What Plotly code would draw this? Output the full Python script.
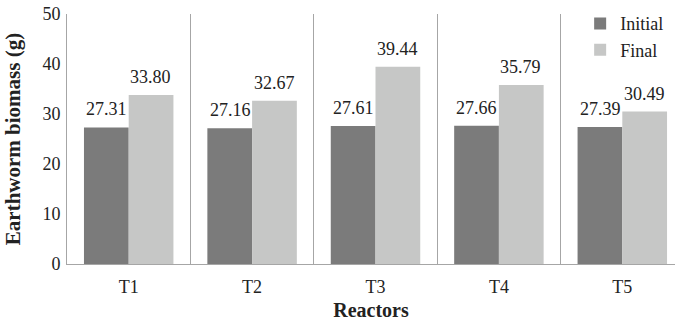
import plotly.graph_objects as go

reactors = ["T1", "T2", "T3", "T4", "T5"]
initial = [27.31, 27.16, 27.61, 27.66, 27.39]
final = [33.80, 32.67, 39.44, 35.79, 30.49]

DARK = "#7b7b7b"
LIGHT = "#c6c7c6"
LINE = "#a6a6a6"
FONT = "Liberation Serif"

fig = go.Figure()
fig.add_trace(go.Bar(name="Initial", x=reactors, y=initial, marker=dict(color=DARK, line=dict(width=0))))
fig.add_trace(go.Bar(name="Final", x=reactors, y=final, marker=dict(color=LIGHT, line=dict(width=0))))

# value labels above each bar
for i, r in enumerate(reactors):
    for val, shift in ((initial[i], -22), (final[i], 22)):
        fig.add_annotation(x=r, y=val, text=f"{val:.2f}", showarrow=False,
                           xshift=shift, yshift=6, yanchor="bottom",
                           font=dict(family=FONT, size=18, color="#222"))

fig.update_layout(
    width=675, height=326,
    margin=dict(l=67, r=0, t=14, b=62),
    paper_bgcolor="white", plot_bgcolor="white",
    barmode="group", bargap=0.275, bargroupgap=0,
    font=dict(family=FONT, size=18, color="#222"),
    showlegend=True,
    legend=dict(x=0.844, y=1.035, xanchor="left", yanchor="top",
                bgcolor="rgba(0,0,0,0)", font=dict(family=FONT, size=18, color="#222"),
                tracegroupgap=0, itemwidth=30),
)
fig.update_xaxes(
    range=[-0.5, 4.427], tickson="boundaries", showgrid=True, gridcolor=LINE, gridwidth=1,
    showline=True, linecolor=LINE, linewidth=1, ticks="", ticklabelstandoff=6,
    tickfont=dict(family=FONT, size=18, color="#222"),
    title=dict(text="<b>Reactors</b>", standoff=7, font=dict(family=FONT, size=20, color="#222")),
)
fig.update_yaxes(
    range=[0, 50], dtick=10, showgrid=False, zeroline=False,
    showline=True, linecolor=LINE, linewidth=1, ticks="", ticklabelstandoff=2,
    tickfont=dict(family=FONT, size=18, color="#222"),
    title=dict(text="<b>Earthworm biomass (g)</b>", standoff=16, font=dict(family=FONT, size=21, color="#222")),
)

fig.write_html("out.html")
